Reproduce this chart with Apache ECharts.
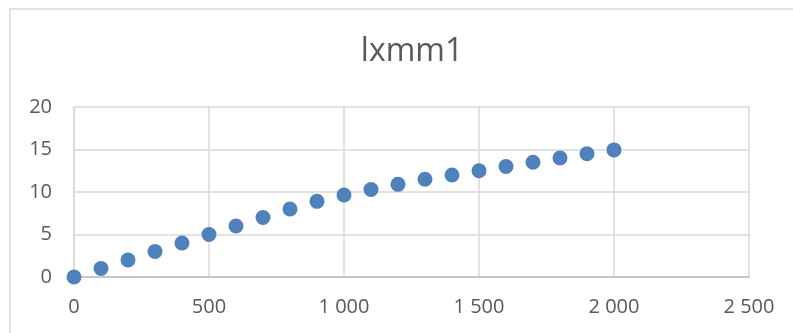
<!DOCTYPE html>
<html>
<head>
<meta charset="utf-8">
<script src="https://cdn.jsdelivr.net/npm/echarts@6/dist/echarts.min.js"></script>
<style>
  html, body { margin: 0; padding: 0; background: #ffffff; }
  #chart { width: 793px; height: 333px; }
</style>
</head>
<body>
<div id="chart"></div>
<script>
// Measured load steps and the resulting lxmm1 readings
const loadSteps = [0, 100, 200, 300, 400, 500, 600, 700, 800, 900, 1000,
                   1100, 1200, 1300, 1400, 1500, 1600, 1700, 1800, 1900, 2000];
const lxmm1 = [0, 1, 2, 3, 4, 5, 6, 7, 8, 8.9, 9.65,
               10.3, 10.9, 11.5, 12.0, 12.5, 13.0, 13.5, 14.0, 14.5, 14.95];
const chartTitle = 'lxmm1';

const points = loadSteps.map((x, i) => [x, lxmm1[i]]);

// Thousands grouped with a space, e.g. "1 000"
function groupThousands(v) {
  return String(v).replace(/\B(?=(\d{3})+(?!\d))/g, ' ');
}

const FONT = '"Open Sans", sans-serif';
const TEXT = '#595959';

const chart = echarts.init(document.getElementById('chart'), null, { renderer: 'canvas' });
chart.setOption({
  backgroundColor: '#ffffff',
  animation: false,
  graphic: [{
    type: 'rect',
    shape: { x: 10, y: 9, width: 800, height: 340 },
    style: { fill: 'none', stroke: '#d9d9d9', lineWidth: 1.5 },
    silent: true
  }],
  title: {
    text: chartTitle,
    left: 407,
    top: 31,
    textAlign: 'center',
    textStyle: { fontFamily: FONT, fontSize: 32, fontWeight: 'normal', color: TEXT }
  },
  grid: { left: 74, right: 44, top: 107, bottom: 56, containLabel: false },
  xAxis: {
    type: 'value',
    min: 0, max: 2500, interval: 500,
    axisLine: { show: true, onZero: false, lineStyle: { color: '#bfbfbf', width: 1.5 } },
    axisTick: { show: false },
    splitLine: { show: true, lineStyle: { color: '#d9d9d9', width: 1.5 } },
    axisLabel: {
      margin: 20,
      fontFamily: FONT, fontSize: 20, color: TEXT,
      formatter: groupThousands
    }
  },
  yAxis: {
    type: 'value',
    min: 0, max: 20, interval: 5,
    axisLine: { show: true, lineStyle: { color: '#d9d9d9', width: 1.5 } },
    axisTick: { show: false },
    splitLine: { show: true, lineStyle: { color: '#d9d9d9', width: 1.5 } },
    axisLabel: { margin: 22, fontFamily: FONT, fontSize: 20, color: TEXT }
  },
  series: [{
    type: 'scatter',
    data: points,
    symbol: 'circle',
    symbolSize: 15,
    itemStyle: { color: '#4f81bd', opacity: 1 }
  }]
});
</script>
</body>
</html>
